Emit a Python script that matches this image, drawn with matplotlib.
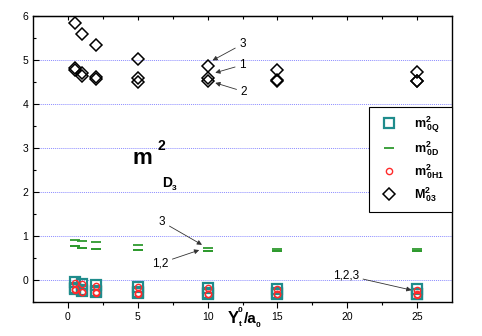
import matplotlib
matplotlib.use("Agg")
import matplotlib.pyplot as plt

plt.rcParams['font.family'] = ['Liberation Sans', 'DejaVu Sans']
plt.rcParams['mathtext.fontset'] = 'custom'
plt.rcParams['mathtext.rm'] = 'Liberation Sans'
plt.rcParams['mathtext.bf'] = 'Liberation Sans:bold'
plt.rcParams['mathtext.it'] = 'Liberation Sans:italic'

x = [0.5, 1, 2, 5, 10, 15, 25]

# m^2_0Q (squares), series 1,2,3
q1 = [-0.04, -0.08, -0.12, -0.16, -0.19, -0.20, -0.21]
q2 = [-0.18, -0.23, -0.26, -0.28, -0.30, -0.30, -0.31]
q3 = [-0.20, -0.25, -0.27, -0.29, -0.31, -0.31, -0.32]

# m^2_0D (dashes)
d1 = [0.78, 0.73, 0.70, 0.68, 0.67, 0.67, 0.66]
d2 = [0.78, 0.73, 0.70, 0.68, 0.67, 0.67, 0.66]
d3 = [0.92, 0.89, 0.87, 0.80, 0.72, 0.71, 0.71]

# m^2_0H1 (circles)
h1 = [-0.06, -0.09, -0.13, -0.17, -0.19, -0.20, -0.22]
h2 = [-0.21, -0.27, -0.28, -0.30, -0.31, -0.31, -0.32]
h3 = [-0.22, -0.27, -0.29, -0.31, -0.32, -0.32, -0.33]

# M^2_03 (diamonds)
m1 = [4.82, 4.70, 4.62, 4.58, 4.60, 4.55, 4.52]
m2 = [4.78, 4.64, 4.56, 4.51, 4.52, 4.52, 4.52]
m3 = [5.85, 5.60, 5.33, 5.02, 4.86, 4.78, 4.72]

labels = [r'$\mathbf{m^{2}_{\,0Q}}$', r'$\mathbf{m^{2}_{\,0D}}$',
          r'$\mathbf{m^{2}_{\,0H1}}$', r'$\mathbf{M^{2}_{\,03}}$']

teal = '#1f8c8c'
green = '#2e9a2e'
red = '#ff2a2a'

W, H = 482, 336
fig = plt.figure(figsize=(W/100, H/100), dpi=100)
ax = fig.add_axes([33/W, 1-302/H, (452-33)/W, (302-16)/H])

for yy in range(0, 6):
    ax.axhline(yy, color='#8c8cff', lw=0.7, ls=(0, (1, 1)), zorder=0)

for s in (q1, q2, q3):
    hq, = ax.plot(x, s, ls='none', marker='s', ms=7.5, mfc='none', mec=teal, mew=1.6)
for s in (d1, d2, d3):
    hd, = ax.plot(x, s, ls='none', marker='_', ms=7, mec=green, mew=1.3)
for s in (h1, h2, h3):
    hh, = ax.plot(x, s, ls='none', marker='o', ms=4.5, mfc='none', mec=red, mew=1.0)
for s in (m1, m2, m3):
    hm, = ax.plot(x, s, ls='none', marker='D', ms=5.8, mfc='none', mec='black', mew=1.1)

ax.set_xlim(-2.5, 27.5)
ax.set_ylim(-0.5, 6)
ax.set_xticks([0, 5, 10, 15, 20, 25])
ax.set_xticks([2.5, 7.5, 12.5, 17.5, 22.5], minor=True)
ax.set_yticks([0, 1, 2, 3, 4, 5, 6])
ax.set_yticks([-0.5, 0.5, 1.5, 2.5, 3.5, 4.5, 5.5], minor=True)
ax.tick_params(axis='x', which='both', direction='out', labelsize=7.5, width=0.8)
ax.tick_params(axis='x', which='major', length=4)
ax.tick_params(axis='x', which='minor', length=2.5)
ax.tick_params(axis='y', which='both', direction='in', labelsize=7.5, width=0.8)
ax.tick_params(axis='y', which='major', length=4)
ax.tick_params(axis='y', which='minor', length=2.5)
for sp in ax.spines.values():
    sp.set_linewidth(1.0)

top = ax.secondary_xaxis('top')
top.set_xticks([0, 5, 10, 15, 20, 25])
top.set_xticks([2.5, 7.5, 12.5, 17.5, 22.5], minor=True)
top.tick_params(which='both', direction='in', labeltop=False, width=0.8)
top.tick_params(which='major', length=3)
top.tick_params(which='minor', length=2)


def ftext(px, py, s, size, **kw):
    fig.text(px/W, 1-py/H, s, fontsize=size, fontweight='bold', ha='left', va='baseline', **kw)


# big label m^2_{D3}
ftext(133, 164, 'm', 16)
ftext(157, 150, '2', 10)
ftext(162.5, 187, 'D', 10)
ftext(172, 189.5, '3', 6)

# x axis label Y^0_t / a_0
ftext(228, 323, 'Y', 12)
ftext(238, 312, '0', 6)
ftext(239, 325.5, 't', 6)
ftext(244, 323, '/a', 11)
ftext(255.5, 327, '0', 6)

ap = dict(arrowstyle='-|>', lw=0.6, color='#333333', mutation_scale=7, shrinkA=1, shrinkB=0)
ax.annotate('3', xy=(10.35, 4.99), xytext=(12.5, 5.36), fontsize=8.5, ha='center', va='center', arrowprops=ap)
ax.annotate('1', xy=(10.55, 4.71), xytext=(12.5, 4.89), fontsize=8.5, ha='center', va='center', arrowprops=ap)
ax.annotate('2', xy=(10.55, 4.48), xytext=(12.6, 4.28), fontsize=8.5, ha='center', va='center', arrowprops=ap)
ax.annotate('3', xy=(9.6, 0.80), xytext=(6.75, 1.32), fontsize=8.5, ha='center', va='center', arrowprops=ap)
ax.annotate('1,2', xy=(9.4, 0.68), xytext=(6.6, 0.38), fontsize=8.5, ha='center', va='center', arrowprops=ap)
ax.annotate('1,2,3', xy=(24.6, -0.23), xytext=(19.9, 0.11), fontsize=8.5, ha='center', va='center', arrowprops=ap)

leg = ax.legend([hq, hd, hh, hm], labels, loc='upper right',
                bbox_to_anchor=(1.0, 1-(107-16)/286), fontsize=9, frameon=True,
                fancybox=False, edgecolor='black', framealpha=1, labelspacing=0.35,
                borderpad=0.6, handletextpad=1.0, handlelength=2.0, borderaxespad=0)
leg.get_frame().set_linewidth(0.8)

fig.savefig('out.png', dpi=100)
